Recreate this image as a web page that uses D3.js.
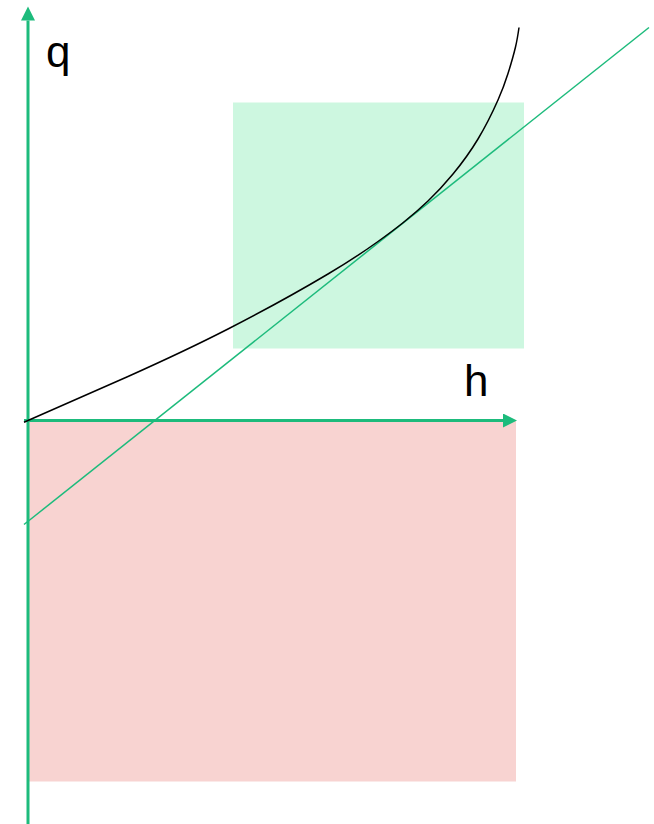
<!DOCTYPE html>
<html>
  <head>
    <meta charset="utf-8">
    <title>q vs h</title>
    <style>
      body { margin: 0; background: #fff; }
      svg { display: block; }
      text { font-family: "Liberation Sans", Arial, sans-serif; }
    </style>
  </head>
  <body>
    <svg id="chart" width="654" height="824"></svg>
    <script src="https://d3js.org/d3.v7.min.js"></script>
    <script>
      // curve q(h)
      curveH = [-0.08, 2, 4, 6, 7, 7.5, 8, 8.5, 9, 9.4, 9.6, 9.75, 9.82]
      curveQ = [-0.035, 0.88, 1.83, 2.93, 3.58, 3.955, 4.39, 4.93, 5.63, 6.41, 6.94, 7.47, 7.86]
      // tangent line
      lineH = [-0.08, 12.42]
      lineQ = [-2.08, 7.86]
      // shaded regions [h0, h1, q0, q1]
      greenBox = [4.1, 9.92, 1.44, 6.36]
      redBox = [0, 9.76, -7.22, 0]
      // axis extents
      hAxisRange = [-0.08, 9.82]
      qAxisRange = [-8.1, 8.32]
      axisLabels = ['h', 'q']

      width = 654
      height = 824
      green = '#1dbb7c'

      xScale = d3.scaleLinear().domain([0, 10]).range([28, 528])
      yScale = d3.scaleLinear().domain([0, 10]).range([420.5, -79.5])

      const svg = d3.select('#chart')

      function box(b, fill) {
        svg.append('rect')
          .attr('x', xScale(b[0]))
          .attr('y', yScale(b[3]))
          .attr('width', xScale(b[1]) - xScale(b[0]))
          .attr('height', yScale(b[2]) - yScale(b[3]))
          .attr('fill', fill)
      }
      box(greenBox, '#cdf7e0')
      box(redBox, '#f8d3d1')

      // axes with arrow heads
      svg.append('defs').append('marker')
        .attr('id', 'arrow')
        .attr('viewBox', '0 0 10 10')
        .attr('refX', 0)
        .attr('refY', 5)
        .attr('markerUnits', 'userSpaceOnUse')
        .attr('markerWidth', 16)
        .attr('markerHeight', 14)
        .attr('orient', 'auto')
        .append('path')
          .attr('d', 'M0,0 L10,5 L0,10 Z')
          .attr('fill', green)

      svg.append('line')
        .attr('x1', xScale(hAxisRange[0]))
        .attr('x2', xScale(hAxisRange[1]) - 16)
        .attr('y1', yScale(0))
        .attr('y2', yScale(0))
        .attr('stroke', green)
        .attr('stroke-width', 3)
        .attr('marker-end', 'url(#arrow)')

      svg.append('line')
        .attr('x1', xScale(0))
        .attr('x2', xScale(0))
        .attr('y1', yScale(qAxisRange[0]))
        .attr('y2', yScale(qAxisRange[1]) + 16)
        .attr('stroke', green)
        .attr('stroke-width', 3)
        .attr('marker-end', 'url(#arrow)')

      // tangent line
      svg.append('path')
        .datum(d3.zip(lineH, lineQ))
        .attr('d', d3.line().x(d => xScale(d[0])).y(d => yScale(d[1])))
        .attr('fill', 'none')
        .attr('stroke', green)
        .attr('stroke-width', 1.5)

      // the curve
      svg.append('path')
        .datum(d3.zip(curveH, curveQ))
        .attr('d', d3.line().curve(d3.curveNatural).x(d => xScale(d[0])).y(d => yScale(d[1])))
        .attr('fill', 'none')
        .attr('stroke', '#000')
        .attr('stroke-width', 1.5)

      // axis labels
      svg.append('text')
        .attr('x', 464)
        .attr('y', 396)
        .attr('font-size', 44)
        .text(axisLabels[0])
      svg.append('text')
        .attr('x', 46)
        .attr('y', 67)
        .attr('font-size', 44)
        .text(axisLabels[1])
    </script>
  </body>
</html>
